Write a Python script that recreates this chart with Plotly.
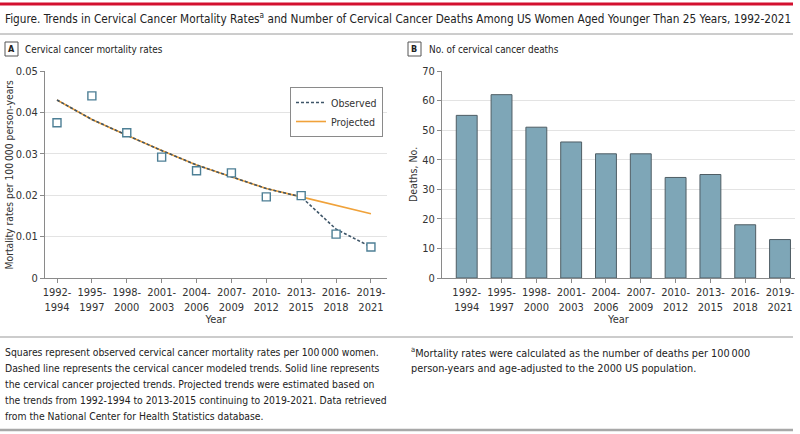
import plotly.graph_objects as go

W, H = 800, 434
def px(x): return x / W
def py(y): return 1 - y / H

periods = ["1992-1994", "1995-1997", "1998-2000", "2001-2003", "2004-2006",
           "2007-2009", "2010-2012", "2013-2015", "2016-2018", "2019-2021"]
tick_text = [p.replace("-", "-<br>") for p in periods]

observed_rates = [0.0375, 0.0440, 0.0351, 0.0292, 0.0259, 0.0254, 0.0196, 0.0199, 0.0106, 0.0075]
modeled_trend = [0.0430, 0.0383, 0.0345, 0.0308, 0.0273, 0.0245, 0.0216, 0.0196, 0.0118, 0.0075]
projected_trend = [0.0430, 0.0383, 0.0345, 0.0308, 0.0273, 0.0245, 0.0216, 0.0196, 0.0175, 0.0155]
deaths = [55, 62, 51, 46, 42, 42, 34, 35, 18, 13]

FONT = "DejaVu Sans Condensed, sans-serif"
TXT = "#333333"
AX = "#8a8a8a"
GRID = "#e3e3e3"

fig = go.Figure()

fig.add_trace(go.Scatter(x=periods, y=projected_trend, mode="lines", name="Projected",
                         line=dict(color="#f0a23a", width=1.6), legendrank=2,
                         xaxis="x", yaxis="y"))
fig.add_trace(go.Scatter(x=periods, y=modeled_trend, mode="lines", name="Observed",
                         line=dict(color="#3e5568", width=1.6, dash="3px,2px"), legendrank=1,
                         xaxis="x", yaxis="y"))
fig.add_trace(go.Scatter(x=periods, y=observed_rates, mode="markers", showlegend=False,
                         marker=dict(symbol="square", size=8, color="white",
                                     line=dict(color="#4d7f95", width=1.4)),
                         xaxis="x", yaxis="y"))
fig.add_trace(go.Bar(x=periods, y=deaths, showlegend=False, width=0.6,
                     marker=dict(color="#7ea6b7", line=dict(color="#4f5d64", width=1)),
                     xaxis="x2", yaxis="y2"))

axis_common = dict(showline=True, linecolor=AX, linewidth=1, ticks="outside", automargin=False,
                   ticklen=4, tickcolor=AX, tickfont=dict(family=FONT, size=11, color=TXT))
title_font = dict(family=FONT, size=11, color=TXT)

fig.update_layout(
    width=W, height=H, margin=dict(l=0, r=0, t=0, b=0, autoexpand=False),
    paper_bgcolor="white", plot_bgcolor="white",
    font=dict(family=FONT, size=11, color=TXT),
    xaxis=dict(domain=[px(45), px(387)], type="category", range=[-0.344, 9.46],
               tickvals=periods, ticktext=tick_text, showgrid=False,
               title=dict(text="Year", font=title_font, standoff=2),
               anchor="y", **axis_common),
    yaxis=dict(domain=[py(278), py(71)], range=[0, 0.05], dtick=0.01, showgrid=True,
               gridcolor=GRID, gridwidth=1, zeroline=False,
               anchor="x", **axis_common),
    xaxis2=dict(domain=[px(442), px(795)], type="category", range=[-0.71, 9.43],
                tickvals=periods, ticktext=tick_text, showgrid=False,
                title=dict(text="Year", font=title_font, standoff=2),
                anchor="y2", **axis_common),
    yaxis2=dict(domain=[py(278), py(71)], range=[0, 70], dtick=10, showgrid=True,
                gridcolor=GRID, gridwidth=1, zeroline=False,
                anchor="x2", **axis_common),
    legend=dict(x=px(290), y=py(87), xanchor="left", yanchor="top",
                bgcolor="white", bordercolor="#8a8a8a", borderwidth=1,
                font=dict(family=FONT, size=10.5, color=TXT),
                tracegroupgap=0, itemwidth=30),
    showlegend=True,
)

shapes = [
    dict(type="line", x0=0, x1=px(793), y0=py(4), y1=py(4), line=dict(color="#d3102f", width=3)),
    dict(type="line", x0=0, x1=px(793), y0=py(34), y1=py(34), line=dict(color="#9a9a9a", width=1)),
    dict(type="line", x0=0, x1=px(793), y0=py(337), y1=py(337), line=dict(color="#9a9a9a", width=1.2)),
    dict(type="line", x0=0, x1=px(793), y0=py(430), y1=py(430), line=dict(color="#a8a8a8", width=2.5)),
    dict(type="rect", x0=px(5), x1=px(18), y0=py(56), y1=py(42), line=dict(color="#555", width=1)),
    dict(type="rect", x0=px(408), x1=px(421), y0=py(56), y1=py(42), line=dict(color="#555", width=1)),
]
for s in shapes:
    s.update(xref="paper", yref="paper")
fig.update_layout(shapes=shapes)

def note(x, y, text, size=11, color=TXT, anchor="left", angle=0):
    fig.add_annotation(x=px(x), y=py(y), xref="paper", yref="paper", text=text,
                       showarrow=False, xanchor=anchor, yanchor="middle", align="left",
                       textangle=angle, font=dict(family=FONT, size=size, color=color))

note(3, 18, "Figure. Trends in Cervical Cancer Mortality Rates<sup>a</sup> and Number of Cervical Cancer "
            "Deaths Among US Women Aged Younger Than 25 Years, 1992-2021", size=11.7, color="#222")
note(11.5, 49, "<b>A</b>", size=9, color="#222", anchor="center")
note(23, 49, "Cervical cancer mortality rates", size=9.9, color="#222")
note(414.5, 49, "<b>B</b>", size=9, color="#222", anchor="center")
note(427, 49, "No. of cervical cancer deaths", size=9.9, color="#222")

# y-axis titles
note(8.5, 175, "Mortality rates per 100\u2009000 person-years", size=10.3, anchor="center", angle=-90)
note(413, 175, "Deaths, No.", size=10.5, anchor="center", angle=-90)

left_caption = [
    "Squares represent observed cervical cancer mortality rates per 100\u2009000 women.",
    "Dashed line represents the cervical cancer modeled trends. Solid line represents",
    "the cervical cancer projected trends. Projected trends were estimated based on",
    "the trends from 1992-1994 to 2013-2015 continuing to 2019-2021. Data retrieved",
    "from the National Center for Health Statistics database.",
]
for i, line in enumerate(left_caption):
    note(3, 352 + 16 * i, line, size=10.3, color="#222")

right_caption = [
    "<sup>a</sup>Mortality rates were calculated as the number of deaths per 100\u2009000",
    "person-years and age-adjusted to the 2000 US population.",
]
for i, line in enumerate(right_caption):
    note(409, 352 + 16 * i, line, size=10.8, color="#222")

fig.write_html("out.html", config={"displayModeBar": False},
               post_script="document.body.style.margin='0';document.body.style.overflow='hidden';")
